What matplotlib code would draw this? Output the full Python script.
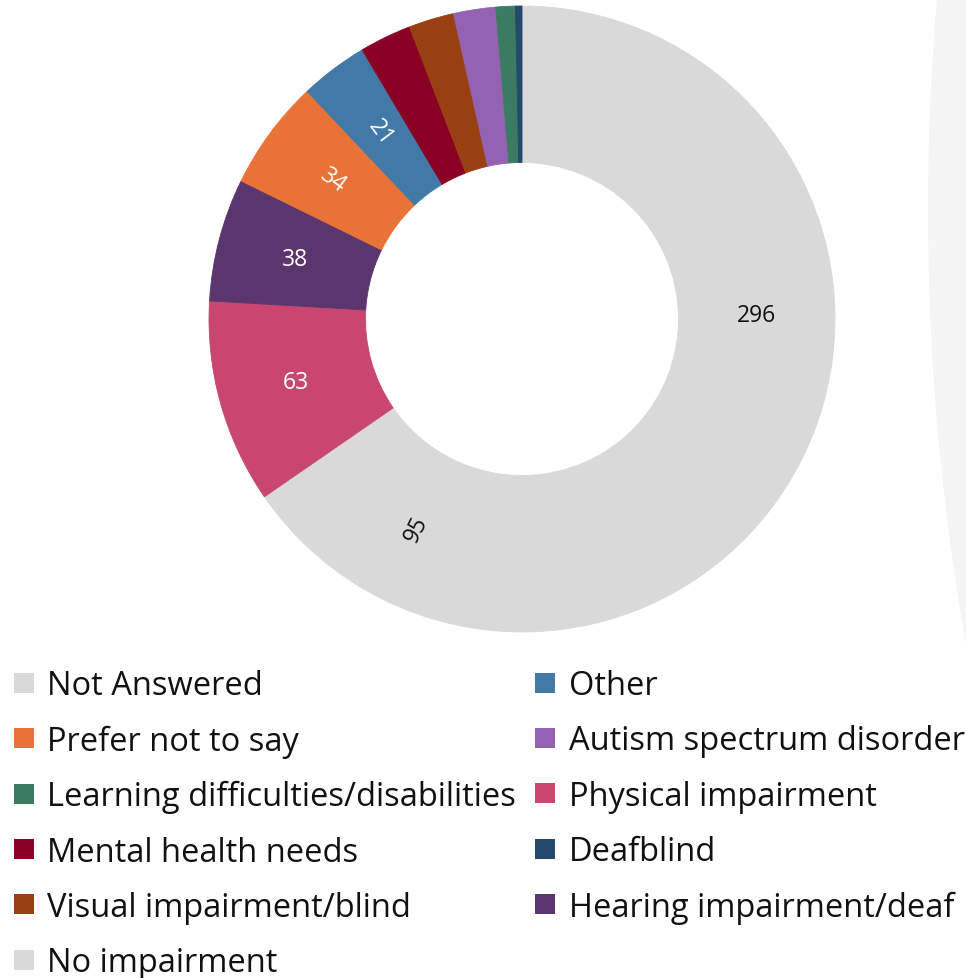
import matplotlib
matplotlib.use("Agg")
import matplotlib.pyplot as plt
from matplotlib.lines import Line2D
from matplotlib.patches import Circle

# ---- data (clockwise from 12 o'clock) ----
categories = ["Not Answered", "No impairment", "Physical impairment",
              "Hearing impairment/deaf", "Prefer not to say", "Other",
              "Mental health needs", "Visual impairment/blind",
              "Autism spectrum disorder", "Learning difficulties/disabilities",
              "Deafblind"]
values = [296, 95, 63, 38, 34, 21, 16, 14, 13, 6, 2]
show_label = [True, True, True, True, True, True, False, False, False, False, False]

legend_order = ["Not Answered", "Prefer not to say", "Learning difficulties/disabilities",
                "Mental health needs", "Visual impairment/blind", "No impairment",
                "Other", "Autism spectrum disorder", "Physical impairment",
                "Deafblind", "Hearing impairment/deaf"]

# ---- styles ----
colors = {
    "Not Answered": "#d9d9d9",
    "No impairment": "#d9d9d9",
    "Physical impairment": "#c8476f",
    "Hearing impairment/deaf": "#5b356e",
    "Prefer not to say": "#e97236",
    "Other": "#4279a7",
    "Mental health needs": "#8a0024",
    "Visual impairment/blind": "#994012",
    "Autism spectrum disorder": "#9363b1",
    "Learning difficulties/disabilities": "#3b7b62",
    "Deafblind": "#25496b",
}
label_colors = ["#111111", "#111111", "white", "white", "white", "white",
                "white", "white", "white", "white", "white"]
radial_label = [False, True, False, False, True, True, False, False, False, False, False]

plt.rcParams['font.family'] = ['Open Sans', 'DejaVu Sans']

W, H = 966, 979
fig = plt.figure(figsize=(W / 100, H / 100), dpi=100)
fig.patch.set_facecolor("white")

# faint background shape at right edge
fig.add_artist(Circle(((928 + 2500) / 100, (H - 211) / 100), 25.0,
                      transform=fig.dpi_scale_trans, facecolor="#f4f4f4",
                      edgecolor="none", zorder=-5))

cx, cy, R = 522, 320, 313
ax = fig.add_axes([(cx - R) / W, (H - cy - R) / H, 2 * R / W, 2 * R / H])
ax.set_facecolor("none")

counter = iter(range(len(values)))


def fmt(pct):
    i = next(counter)
    return f"{values[i]}" if show_label[i] else ""


wedges, texts, autotexts = ax.pie(
    values, colors=[colors[c] for c in categories], startangle=90,
    counterclock=False, radius=1.0, autopct=fmt, pctdistance=0.75,
    wedgeprops=dict(width=0.5, linewidth=0.6),
    textprops=dict(fontsize=16.5))

for i, (w, t) in enumerate(zip(wedges, autotexts)):
    w.set_edgecolor(w.get_facecolor())
    t.set_color(label_colors[i])
    if radial_label[i]:
        mid = (w.theta1 + w.theta2) / 2.0
        rot = mid % 180
        if rot > 90:
            rot -= 180
        t.set_rotation(rot)
    t.set_ha("center")
    t.set_va("center")

ax.set_xlim(-1, 1)
ax.set_ylim(-1, 1)
ax.set_aspect("equal")
ax.axis("off")

handles = [Line2D([0], [0], marker="s", linestyle="none", markersize=13.7,
                  markerfacecolor=colors[c], markeredgewidth=0) for c in legend_order]
leg = fig.legend(handles, legend_order, ncol=2, loc="upper left",
                 bbox_to_anchor=(9 / W, 1 - 670 / H), frameon=False,
                 fontsize=23.5, handlelength=0.9, handletextpad=0.27,
                 columnspacing=0.45, labelspacing=0.685, borderpad=0,
                 borderaxespad=0)
for t in leg.get_texts():
    t.set_color("#111111")

fig.savefig("out.png", dpi=100, facecolor="white")
